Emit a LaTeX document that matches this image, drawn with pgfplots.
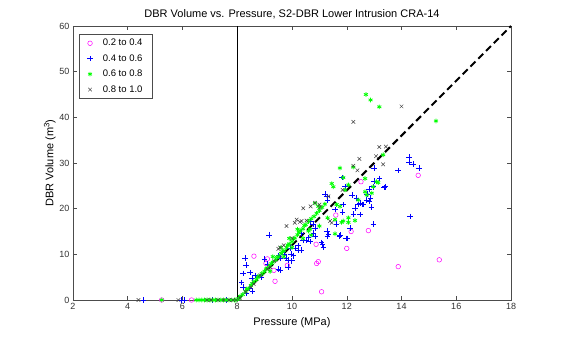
\documentclass[border=0pt]{standalone}
\usepackage{pgfplots}
\pgfplotsset{compat=1.18}
\usepackage{fontspec}
\setmainfont{Liberation Sans}
\definecolor{mag}{rgb}{1,0,1}
\definecolor{blu}{rgb}{0,0,1}
\definecolor{grn}{rgb}{0,1,0}
\definecolor{gry}{rgb}{0.25,0.25,0.25}
\begin{document}
\begin{tikzpicture}
\useasboundingbox (-73pt,-38pt) rectangle (491pt,300pt);
\fill[white] (-73pt,-38pt) rectangle (491pt,300pt);
\begin{axis}[
  anchor=south west, at={(0pt,0pt)},
  scale only axis, width=438pt, height=274pt,
  xmin=2, xmax=18, ymin=0, ymax=60,
  xtick={2,4,...,18}, ytick={0,10,...,60},
  tick align=inside, tick pos=both,
  major tick length=4pt,
  axis line style={gray!60!black, line width=0.5pt},
  every tick/.style={gray!60!black, line width=0.5pt},
  clip=false,
  /pgf/number format/assume math mode=true,
  tick label style={font=\fontsize{9}{10}\selectfont, text=black!80},
  title={DBR Volume vs. Pressure, S2-DBR Lower Intrusion CRA-14},
  title style={font=\fontsize{11}{12}\selectfont, at={(0.5,1)}, anchor=base, yshift=2.5pt},
  xlabel={Pressure (MPa)},
  ylabel={DBR Volume (m\textsuperscript{3})},
  xlabel style={font=\fontsize{11}{12}\selectfont, yshift=-1pt},
  ylabel style={font=\fontsize{11}{12}\selectfont, yshift=-3pt},
  legend style={at={(0.0137,0.971)}, anchor=north west, font=\fontsize{9.5}{11}\selectfont,
    draw=gray!60!black, line width=0.5pt, row sep=3.3pt, inner xsep=8pt, inner ysep=3pt,
    /tikz/every odd column/.append style={column sep=8pt}},
  legend cell align=left,
]
% 0.2 to 0.4
\addplot[only marks, mark=o, mag, mark size=2.3pt, mark options={line width=0.5pt}] coordinates {
(5.24,0) (6.33,0) (8.61,9.6) (9.1,9.0) (9.05,8.0) (9.34,6.5) (9.38,4.1) (9.83,7.6)
(10.9,8.0) (10.96,8.4) (11.08,1.8) (10.88,12.2) (11.6,18.6) (12.0,11.3) (12.16,15.0)
(12.79,15.2) (12.52,25.9) (14.61,27.3) (13.88,7.3) (15.38,8.8)
};
\addlegendentry{0.2 to 0.4}
% 0.4 to 0.6
\addplot[only marks, mark=+, blu, mark size=2.8pt, mark options={line width=0.5pt}] coordinates {
(4.57,0) (5.95,0) (6.05,0) (7.1,0) (7.6,0)
(8.16,3.8) (8.22,2.9) (8.34,1.4) (8.44,2.5) (8.56,2.0) (8.47,6.0) (8.53,4.7) (8.65,5.4)
(8.28,9.2) (8.32,7.7) (8.22,5.8) (8.89,5.0) (9.0,9.0) (9.1,7.9) (9.17,14.2) (9.5,6.8)
(9.56,6.6) (9.5,9.7) (9.56,9.1) (9.8,9.2) (9.86,8.8) (9.99,8.6) (10.05,9.7) (9.96,10.1)
(9.7,10.1) (9.86,7.2) (9.93,11.4) (10.23,10.8) (10.12,11.3) (10.23,11.9) (10.53,13.0)
(10.66,12.8) (10.6,13.7) (10.35,14.7) (10.41,13.0) (10.33,10.9) (10.84,14.0) (11.08,12.6)
(11.15,11.5) (11.12,12.2) (11.29,13.9) (10.66,17.3) (10.76,16.6) (10.84,15.8) (10.78,14.7)
(11.27,15.1) (11.33,14.4) (11.73,14.0) (11.97,13.5) (11.75,14.2) (11.57,19.8) (11.63,16.6)
(11.85,19.3) (11.87,20.9) (11.27,22.7) (11.2,23.2) (11.3,21.8) (11.82,26.8) (11.94,24.8)
(12.2,23.0) (12.35,22.3) (12.42,20.9) (12.6,20.9) (12.48,18.7) (12.24,18.8) (12.3,20.1)
(12.12,15.8) (12.0,13.5) (12.73,21.9) (12.83,21.6) (12.82,24.3) (12.75,23.2) (12.87,22.3)
(12.9,20.4) (12.97,16.6) (13.0,26.0) (13.2,26.6) (13.36,24.6) (13.4,24.8) (12.95,24.8)
(13.0,28.9) (13.88,28.4) (14.27,31.3) (14.27,30.2) (14.43,29.8) (14.65,28.9) (14.31,18.3)
(12.48,21.2) (12.55,20.9)
};
\addlegendentry{0.4 to 0.6}
% 0.6 to 0.8
\addplot[only marks, mark=asterisk, grn, mark size=2.3pt, mark options={line width=0.8pt}] coordinates {
(5.24,0) (6.5,0) (6.6,0) (6.7,0) (6.8,0) (6.9,0) (7.0,0) (7.1,0) (7.2,0) (7.3,0) (7.4,0)
(7.5,0) (7.6,0) (7.7,0) (7.8,0) (7.9,0) (7.95,0)
(8.05,0.3) (8.1,0.8) (8.2,1.2) (8.3,1.9) (8.35,2.4) (8.4,2.5) (8.5,3.2) (8.55,3.6) (8.6,4.0)
(8.7,4.5) (8.75,5.0) (8.8,5.3) (8.9,5.8) (9.0,6.3) (9.05,6.8) (9.1,7.0) (9.2,7.6) (9.25,8.0)
(9.3,8.3) (9.4,8.8) (9.45,9.3) (9.5,9.5) (9.6,10.2) (9.65,10.6) (9.7,10.8) (9.8,11.5)
(9.85,12.0) (9.9,12.3) (10.0,12.8) (10.05,13.4) (10.1,13.6) (10.2,14.3) (10.25,14.8)
(10.3,15.2) (10.4,15.6) (10.45,16.3) (10.5,16.5) (10.6,17.2) (10.7,17.8) (10.8,18.3)
(10.9,19.0) (11.0,19.6) (11.1,20.3) (11.2,21.0)
(9.3,9.5) (9.6,11.5) (9.9,13.5) (10.2,15.5) (9.2,6.3) (9.7,9.5) (10.0,11.5) (10.4,13.5)
(10.7,14.2) (11.0,16.2) (11.3,18.0)
(10.84,21.2) (10.96,20.5) (10.66,15.5) (10.6,15.1) (11.45,25.5) (11.51,24.8) (11.87,26.8)
(12.06,25.2) (11.94,24.1) (11.63,20.9) (11.75,20.5) (13.09,25.9) (12.73,23.0) (12.91,23.4)
(11.81,17.0) (12.06,17.0) (12.3,17.4) (11.57,14.5) (11.57,17.6) (11.87,17.3) (12.06,18.0)
(12.42,21.9) (12.67,23.7) (12.97,24.8) (12.67,26.6) (11.75,28.9) (12.24,29.1) (13.33,31.8)
(13.15,25.7) (12.7,45.0) (12.87,43.8) (13.19,42.3) (15.26,39.2)
};
\addlegendentry{0.6 to 0.8}
% 0.8 to 1.0
\addplot[only marks, mark=x, gry, mark size=2.5pt, mark options={line width=0.5pt}] coordinates {
(4.39,0) (5.85,0) (6.9,0) (7.05,0) (7.3,0) (7.5,0) (7.7,0) (7.85,0) (7.95,0)
(8.1,0.5) (8.3,1.8) (8.5,2.8) (8.6,3.5) (8.83,5.4) (9.1,6.8) (9.2,7.2) (9.35,8.5)
(9.5,11.2) (9.56,11.5) (9.7,12.0) (10.0,13.5) (9.8,16.2) (10.1,16.9) (10.29,17.1)
(10.17,17.6) (10.35,17.3) (10.53,17.4) (11.39,17.3) (11.45,16.9) (10.41,20.1) (10.68,20.5)
(11.0,20.9) (11.02,20.3) (10.84,21.3) (11.33,22.7) (11.85,24.1) (12.24,29.4) (12.39,28.4)
(12.46,30.9) (13.07,31.5) (13.33,29.7) (13.19,33.5) (13.43,33.6) (12.24,39.0) (14.0,42.4)
};
\addlegendentry{0.8 to 1.0}
\addplot[forget plot, black, line width=1.5pt] coordinates {(8,0) (8,60)};
\addplot[forget plot, black, line width=2pt, dash pattern=on 7pt off 4pt] coordinates {(8,0) (18,60)};
\end{axis}
\end{tikzpicture}
\end{document}
